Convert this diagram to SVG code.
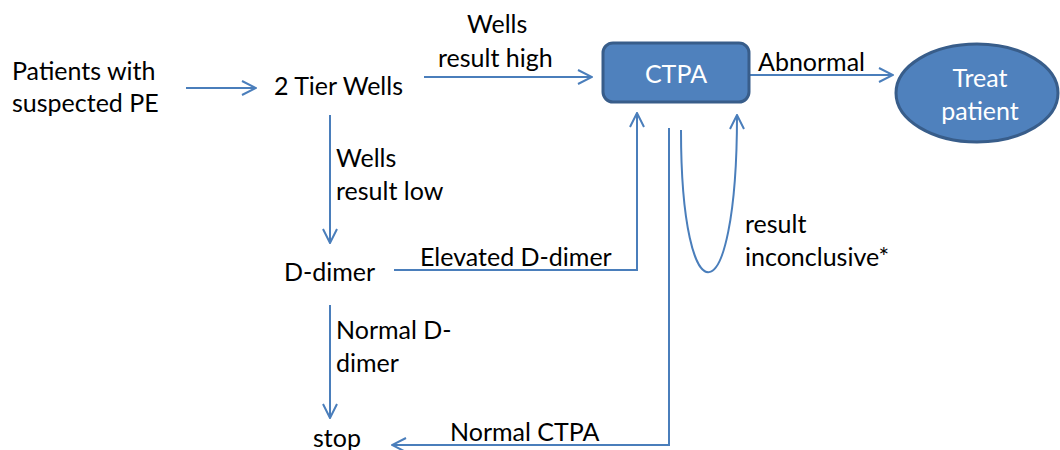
<svg xmlns="http://www.w3.org/2000/svg" width="1060" height="450" viewBox="0 0 1060 450">
<style>
text{font-family:Lato,"Open Sans","Liberation Sans",sans-serif;font-size:25px;fill:#000}
.w{fill:#fff}
.c{fill:none;stroke:#4a7ebb;stroke-width:2}
</style>
<defs>
<marker id="a" viewBox="0 0 16 16" refX="15" refY="8" markerWidth="16" markerHeight="16" markerUnits="userSpaceOnUse" orient="auto">
<path d="M1,1 L15,8 L1,15" fill="none" stroke="#4a7ebb" stroke-width="2"/>
</marker>
</defs>
<rect width="1060" height="450" fill="#fff"/>
<g id="connectors">
<path class="c" d="M186,88 H256" marker-end="url(#a)"/>
<path class="c" d="M424,77 H592" marker-end="url(#a)"/>
<path class="c" d="M750,75 H893" marker-end="url(#a)"/>
<path class="c" d="M330,115 V243" marker-end="url(#a)"/>
<path class="c" d="M394,270 H637 V113" marker-end="url(#a)"/>
<path class="c" d="M330,305 V418" marker-end="url(#a)"/>
<path class="c" d="M669,128 V445 H392" marker-end="url(#a)"/>
<path class="c" d="M681,130 C681,322 737,322 737,115" marker-end="url(#a)"/>
<text x="467" y="33">Wells</text>
<text x="438" y="67">result high</text>
<text x="758" y="71">Abnormal</text>
<text x="336" y="167">Wells</text>
<text x="336" y="200">result low</text>
<text x="420" y="266">Elevated D-dimer</text>
<text x="336" y="339">Normal D-</text>
<text x="336" y="372">dimer</text>
<text x="450" y="441">Normal CTPA</text>
<text x="745" y="233">result</text>
<text x="745" y="266">inconclusive*</text>
</g>
<g id="patients"><text x="12" y="80">Patients with</text><text x="12" y="112">suspected PE</text></g>
<g id="wells"><text x="274" y="95">2 Tier Wells</text></g>
<g id="ctpa"><rect x="603" y="43" width="146" height="59" rx="10" fill="#4f81bd" stroke="#385d8a" stroke-width="3"/><text class="w" x="676" y="83" text-anchor="middle">CTPA</text></g>
<g id="treat"><ellipse cx="977" cy="93" rx="81" ry="49" fill="#4f81bd" stroke="#385d8a" stroke-width="3"/><text class="w" x="980" y="87" text-anchor="middle">Treat</text><text class="w" x="980" y="120" text-anchor="middle">patient</text></g>
<g id="ddimer"><text x="284" y="281">D-dimer</text></g>
<g id="stop"><text x="313" y="447">stop</text></g>
</svg>
